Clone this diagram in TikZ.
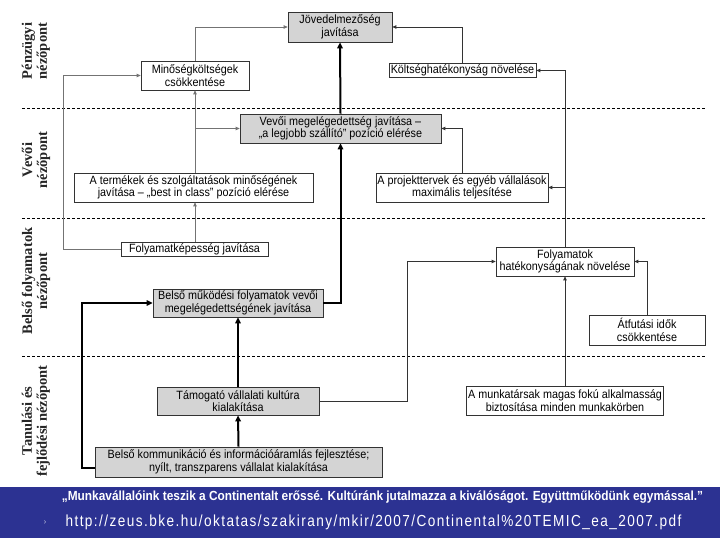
\documentclass[tikz,border=0pt]{standalone}
\usepackage{fontspec}
\usetikzlibrary{arrows.meta,positioning}
\newfontfamily\boxfont[FakeStretch=0.9]{Liberation Sans}
\newfontfamily\urlfont[FakeStretch=0.85,LetterSpace=9]{Liberation Sans}
\newfontfamily\viewfont{Liberation Serif}
\definecolor{bannerblue}{RGB}{44,50,146}
\tikzset{
    goal/.style={draw=black!80, line width=0.7pt, fill=white, inner sep=0pt, align=center,
        font=\boxfont\fontsize{12}{12.5}\selectfont},
    goalgray/.style={goal, fill=black!17},
    flow/.style={draw=black!55, line width=0.8pt, -{Triangle[length=4pt,width=3.5pt]}},
    darkflow/.style={flow, draw=black!80},
    mainflow/.style={draw=black, line width=2pt, -{Triangle[length=6pt,width=5.5pt]}},
    sep/.style={draw=black, line width=0.6pt, dash pattern=on 3pt off 2pt},
    view/.style={rotate=90, align=center, text=black!85, font=\viewfont\bfseries\fontsize{14.5}{15}\selectfont}
}
\begin{document}
\begin{tikzpicture}[x=1pt,y=-1pt]
    \useasboundingbox (0,0) rectangle (720,540);
    \fill[white] (0,0) rectangle (720,540);

    \draw[sep] (22,108) -- (705,108);
    \draw[sep] (22,218) -- (705,218);
    \draw[sep] (22,356) -- (705,356);

    \node[view] (penz) at (36,51) {Pénzügyi\\nézőpont};
    \node[view] (vevoi) at (36,160) {Vevői\\nézőpont};
    \node[view] (belso) at (36,281) {Belső folyamatok\\nézőpont};
    \node[view] (tanul) at (36,421) {Tanulási és\\fejlődési nézőpont};

    \node[goalgray, minimum width=104pt, minimum height=30pt] (jov) at (340,27) {Jövedelmezőség\\javítása};
    \node[goal, minimum width=108pt, minimum height=29pt] (minos) at (195,75.5) {Minőségköltségek\\csökkentése};
    \node[goal, minimum width=147pt, minimum height=14pt] (kolt) at (462.5,70.5) {Költséghatékonyság növelése};
    \node[goalgray, minimum width=201pt, minimum height=29pt] (vevo) at (340.5,128.5) {Vevői megelégedettség javítása –\\„a legjobb szállító” pozíció elérése};
    \node[goal, minimum width=239pt, minimum height=29pt] (term) at (193.5,187.5) {A termékek és szolgáltatások minőségének\\javítása – „best in class” pozíció elérése};
    \node[goal, minimum width=172pt, minimum height=29pt] (proj) at (462,187.5) {A projekttervek és egyéb vállalások\\maximális teljesítése};
    \node[goal, minimum width=147pt, minimum height=14pt] (folyk) at (194.5,249.5) {Folyamatképesség javítása};
    \node[goalgray, minimum width=170pt, minimum height=28pt] (belsom) at (238,303) {Belső működési folyamatok vevői\\megelégedettségének javítása};
    \node[goal, minimum width=138pt, minimum height=29pt] (folyh) at (565,261.5) {Folyamatok\\hatékonyságának növelése};
    \node[goal, minimum width=116pt, minimum height=30pt] (atf) at (647,330) {Átfutási idők\\csökkentése};
    \node[goalgray, minimum width=162pt, minimum height=28pt] (tamog) at (238,401) {Támogató vállalati kultúra\\kialakítása};
    \node[goal, minimum width=197pt, minimum height=29pt] (munk) at (565,400.5) {A munkatársak magas fokú alkalmasság\\biztosítása minden munkakörben};
    \node[goalgray, minimum width=287pt, minimum height=30pt] (kommu) at (238.5,462) {Belső kommunikáció és információáramlás fejlesztése;\\nyílt, transzparens vállalat kialakítása};

    \coordinate (lk) at (63,75.5);
    \coordinate (tk) at (407,261.5);
    \coordinate (bk) at (82,303);

    \draw[flow] (minos.north) |- (jov.west);
    \draw[darkflow] (kolt.north) |- (jov.east);
    \draw[flow] (minos.south |- term.north) -- (minos.south);
    \draw[flow] (minos.south |- vevo.west) -- (vevo.west);
    \draw[flow] (minos.south |- folyk.north) -- (minos.south |- term.south);
    \draw[flow] (folyk.west) -| (lk) -- (minos.west);
    \draw[darkflow] (proj.north) |- (vevo.east);
    \draw[darkflow] (folyh.north) |- (kolt.east);
    \draw[darkflow] (folyh.north |- proj.east) -- (proj.east);
    \draw[darkflow] (atf.north) |- (folyh.east);
    \draw[darkflow] (munk.north) -- (folyh.south);
    \draw[darkflow] (tamog.east) -| (tk) -- (folyh.west);
    \draw[mainflow] (vevo.north) -- (jov.south);
    \draw[mainflow] (belsom.east) -| (vevo.south);
    \draw[mainflow] (tamog.north) -- (belsom.south);
    \draw[mainflow] (kommu.north) -- (tamog.south);
    \draw[mainflow] ([yshift=-6pt]kommu.west) -| (bk) -- (belsom.west);

    \fill[bannerblue] (0,487) rectangle (720,538);
    \node[text=white, font=\boxfont\bfseries\fontsize{13.2}{14}\selectfont] (quote) at (382.5,497) {„Munkavállalóink teszik a Continentalt erőssé. Kultúránk jutalmazza a kiválóságot. Együttműködünk egymással.”};
    \node[text=white!75!bannerblue, font=\boxfont\fontsize{8}{9}\selectfont] (bullet) at (45,523) {›};
    \node[text=white, font=\urlfont\fontsize{16}{18}\selectfont] (url) at (373.5,522) {http://zeus.bke.hu/oktatas/szakirany/mkir/2007/Continental\%20TEMIC\_ea\_2007.pdf};
\end{tikzpicture}
\end{document}
